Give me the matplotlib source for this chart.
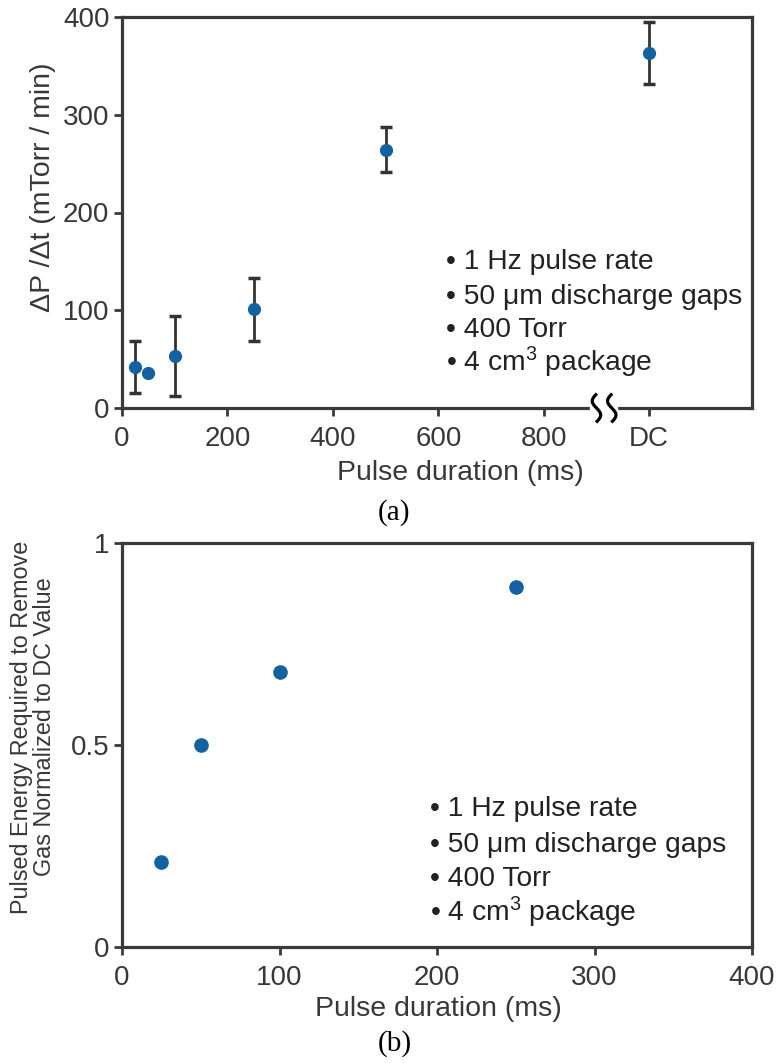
import numpy as np
import matplotlib
matplotlib.use("Agg")
import matplotlib.pyplot as plt
from matplotlib.transforms import blended_transform_factory

plt.rcParams['font.family'] = ['Liberation Sans', 'DejaVu Sans']
plt.rcParams['mathtext.fontset'] = 'custom'
plt.rcParams['mathtext.rm'] = 'Liberation Sans'
plt.rcParams['mathtext.it'] = 'Liberation Sans:italic'

# ---- data ----
pulse_a = [25, 50, 100, 250, 500, 1000]        # 1000 = DC position
rate_a = [42, 36, 53, 101, 264, 363]
err_a = [27, 0, 41, 32, 23, 32]
xticks_a = [0, 200, 400, 600, 800, 1000]
xticklabels_a = ["0", "200", "400", "600", "800", "DC"]
yticks_a = [0, 100, 200, 300, 400]

pulse_b = [25, 50, 100, 250]
energy_b = [0.21, 0.50, 0.68, 0.89]
xticks_b = [0, 100, 200, 300, 400]
yticks_b = [0, 0.5, 1]
yticklabels_b = ["0", "0.5", "1"]

notes = ["• 1 Hz pulse rate", "• 50 μm discharge gaps", "• 400 Torr",
         "• 4 cm$^3$ package"]

W, H = 778, 1063
SPINE = '#3a3a38'
TXT = '#383838'
BLUE = '#15609e'

fig = plt.figure(figsize=(W / 100, H / 100), dpi=100)

def fx(px):
    return px / W

def fy(py):
    return 1 - py / H

ax1 = fig.add_axes([fx(122), fy(408), fx(752) - fx(122), fy(17) - fy(408)])
ax2 = fig.add_axes([fx(122), fy(947), fx(752) - fx(122), fy(543) - fy(947)])

for ax in (ax1, ax2):
    for s in ax.spines.values():
        s.set_color(SPINE)
        s.set_linewidth(2.3)
    ax.tick_params(direction='out', length=6, width=2.0, color=SPINE,
                   labelcolor=TXT, labelsize=20)
    ax.tick_params(axis='x', pad=7)
    ax.tick_params(axis='y', pad=3)

# ---- panel (a) ----
ax1.errorbar(pulse_a, rate_a, yerr=err_a, fmt='o', color=BLUE, ms=8.5,
             ecolor='#333333', elinewidth=2.0, capsize=4, capthick=2.5, zorder=3)
ax1.set_xlim(0, 1195)
ax1.set_ylim(0, 400)
ax1.set_xticks(xticks_a)
ax1.set_xticklabels(xticklabels_a)
ax1.set_yticks(yticks_a)

# axis break squiggles on the bottom spine
trans = blended_transform_factory(ax1.transData, ax1.transAxes)
ax1.add_patch(plt.Rectangle((888, -0.02), 50, 0.04, transform=trans,
                            color='white', clip_on=False, zorder=5))
t = np.linspace(-1, 1, 60)
for x0 in (900, 929):
    xs = x0 - 8 * np.sin(np.pi * t * 0.95)
    ys = t * 0.034
    ax1.plot(xs, ys, color='black', lw=2.3, transform=trans, clip_on=False,
             zorder=6)

fig.text(fx(43), fy(187), "ΔP /Δt (mTorr / min)", rotation=90, ha='center',
         va='center', fontsize=20.5, color=TXT)
fig.text(fx(460), fy(473), "Pulse duration (ms)", ha='center', va='center',
         fontsize=20.5, color=TXT)
fig.text(fx(394), fy(513), "(a)", ha='center', va='center', fontsize=21,
         family='Liberation Serif', color='black')

for i, n in enumerate(notes):
    fig.text(fx(446), fy([269, 304, 337, 371][i]), n, ha='left',
             va='baseline', fontsize=20.3, color='#222222')

# ---- panel (b) ----
ax2.plot(pulse_b, energy_b, 'o', color=BLUE, ms=9.5, zorder=3)
ax2.set_xlim(0, 400)
ax2.set_ylim(0, 1)
ax2.set_xticks(xticks_b)
ax2.set_yticks(yticks_b)
ax2.set_yticklabels(yticklabels_b)

fig.text(fx(33), fy(727),
         "Pulsed Energy Required to Remove\nGas Normalized to DC Value",
         rotation=90, ha='center', va='center', fontsize=16.8, color=TXT,
         multialignment='center', linespacing=1.02)
fig.text(fx(438), fy(1009), "Pulse duration (ms)", ha='center', va='center',
         fontsize=20.5, color=TXT)
fig.text(fx(395), fy(1044), "(b)", ha='center', va='center', fontsize=21,
         family='Liberation Serif', color='black')

for i, n in enumerate(notes):
    fig.text(fx(430), fy([816, 852, 886, 921][i]), n, ha='left',
             va='baseline', fontsize=20.3, color='#222222')

fig.savefig("out.png", dpi=100)
